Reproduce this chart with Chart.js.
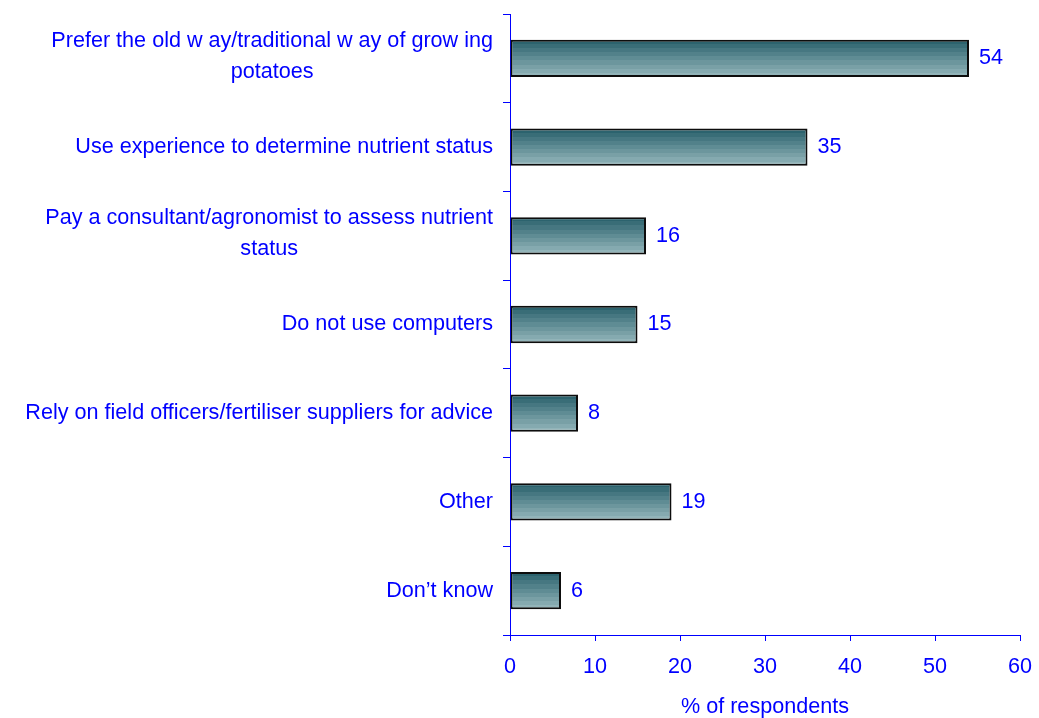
<!DOCTYPE html>
<html>
<head>
<meta charset="utf-8">
<script src="https://cdn.jsdelivr.net/npm/chart.js@4"></script>
<style>
  html, body { margin: 0; padding: 0; background: #ffffff; }
  #wrap { width: 1039px; height: 718px; }
</style>
</head>
<body>
<div id="wrap"><canvas id="c" width="1039" height="718"></canvas></div>
<script>
// Reasons given, one entry per bar (each entry holds the wrapped lines of its label)
const categories = [
  ['Prefer the old w ay/traditional w ay of grow ing', 'potatoes'],
  ['Use experience to determine nutrient status'],
  ['Pay a consultant/agronomist to assess nutrient', 'status'],
  ['Do not use computers'],
  ['Rely on field officers/fertiliser suppliers for advice'],
  ['Other'],
  ['Don\u2019t know']
];
// Share of respondents giving each reason (%)
const respondentShares = [54, 35, 16, 15, 8, 19, 6];
// Value axis ticks
const xTicks = [0, 10, 20, 30, 40, 50, 60];
const axisTitle = '% of respondents';

const BLUE = '#0000ff';
const FONT_FAMILY = '"Liberation Sans", Arial, Helvetica, sans-serif';
const FONT_SIZE = 21.6;
const BAR_PCT = 0.42;
const TOP_RGB = [44, 99, 110];
const BOTTOM_RGB = [146, 180, 185];
const BANDS = 9;

// Banded teal gradient running from the top edge of each bar to its bottom edge
function barFill(c) {
  const chart = c.chart;
  if (!chart.chartArea || c.type !== 'data') return '#5d8a92';
  const ys = chart.scales.y;
  const cy = ys.getPixelForValue(c.dataIndex);
  const thick = ys.height / categories.length * BAR_PCT;
  const g = chart.ctx.createLinearGradient(0, cy - thick / 2, 0, cy + thick / 2);
  for (let b = 0; b < BANDS; b++) {
    const t = b / (BANDS - 1);
    const col = 'rgb(' + TOP_RGB.map((v, k) => Math.round(v + (BOTTOM_RGB[k] - v) * t)).join(',') + ')';
    g.addColorStop(b / BANDS, col);
    g.addColorStop((b + 1) / BANDS - 0.0001, col);
  }
  return g;
}

// Category labels (each block right-aligned, its lines centred) and value labels
const textPlugin = {
  id: 'barTexts',
  afterDraw(chart) {
    const ctx = chart.ctx;
    const ys = chart.scales.y;
    const meta = chart.getDatasetMeta(0);
    const right = chart.chartArea.left - 17;
    const lineGap = 31;
    ctx.save();
    ctx.font = FONT_SIZE + 'px ' + FONT_FAMILY;
    ctx.fillStyle = BLUE;
    ctx.textBaseline = 'middle';
    ctx.textAlign = 'center';
    categories.forEach((lines, i) => {
      const cy = ys.getPixelForTick(i) - (lines.length > 1 ? 2 : 0);
      const w = Math.max(...lines.map(t => ctx.measureText(t).width));
      const cx = right - w / 2;
      lines.forEach((t, k) => {
        ctx.fillText(t, cx, cy + (k - (lines.length - 1) / 2) * lineGap);
      });
    });
    ctx.textAlign = 'left';
    meta.data.forEach((bar, i) => {
      ctx.fillText(String(respondentShares[i]), bar.x + 10, bar.y);
    });
    ctx.restore();
  }
};

new Chart(document.getElementById('c'), {
  type: 'bar',
  data: {
    labels: categories.map(l => l.join(' ')),
    datasets: [{
      data: respondentShares,
      backgroundColor: barFill,
      borderColor: '#0d0d0d',
      borderWidth: 2,
      borderSkipped: false,
      barPercentage: BAR_PCT,
      categoryPercentage: 1
    }]
  },
  options: {
    indexAxis: 'y',
    responsive: false,
    devicePixelRatio: 1,
    animation: false,
    layout: { padding: { top: 14, right: 19, left: 0, bottom: 0 } },
    plugins: {
      legend: { display: false },
      tooltip: { enabled: false }
    },
    scales: {
      y: {
        z: 1,
        grid: {
          offset: true,
          drawOnChartArea: false,
          drawTicks: true,
          tickLength: 7,
          color: BLUE
        },
        border: { color: BLUE, width: 1 },
        ticks: { display: false },
        afterFit(scale) { scale.width = 510; }
      },
      x: {
        min: 0,
        max: 60,
        afterBuildTicks(scale) { scale.ticks = xTicks.map(v => ({ value: v })); },
        grid: {
          drawOnChartArea: false,
          drawTicks: true,
          tickLength: 6,
          color: BLUE
        },
        border: { color: BLUE, width: 1 },
        ticks: {
          color: BLUE,
          padding: 13,
          maxRotation: 0,
          font: { family: FONT_FAMILY, size: FONT_SIZE }
        },
        title: {
          display: true,
          text: axisTitle,
          color: BLUE,
          padding: { top: 0, bottom: -2 },
          font: { family: FONT_FAMILY, size: FONT_SIZE }
        },
        afterFit(scale) {
          scale.height = 83;
          scale.paddingLeft = 0;
          scale.paddingRight = 0;
        }
      }
    }
  },
  plugins: [textPlugin]
});
</script>
</body>
</html>
